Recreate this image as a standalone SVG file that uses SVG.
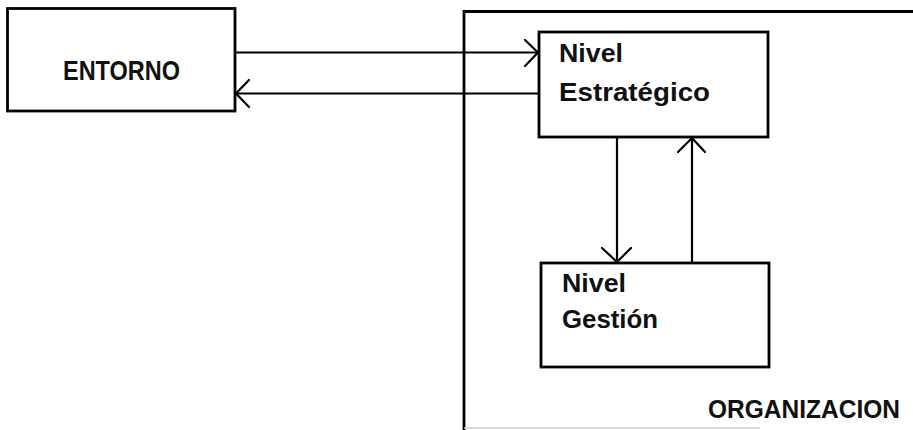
<svg xmlns="http://www.w3.org/2000/svg" width="913" height="430" viewBox="0 0 913 430">
  <style>
    .box { fill: none; stroke: #000; stroke-width: 2.8; }
    .edge { fill: none; stroke: #000; stroke-width: 2.2; }
    .head { fill: none; stroke: #000; stroke-width: 2.2; stroke-linecap: round; stroke-linejoin: miter; }
    .lbl { font-family: "Liberation Sans", "DejaVu Sans", sans-serif; font-weight: bold; fill: #111; }
  </style>
  <rect width="913" height="430" fill="#fff"/>

  <!-- Organisation frame (open to the right) -->
  <g id="organizacion">
    <path class="box" d="M913 11.5 H464 V430"/>
    <path d="M464 428 H760" stroke="#cfcfcf" stroke-width="1.5" fill="none"/>
    <text class="lbl" x="708" y="418" font-size="26" textLength="192" lengthAdjust="spacingAndGlyphs">ORGANIZACION</text>
  </g>

  <g id="entorno">
    <rect class="box" x="7.5" y="8.5" width="227.5" height="102.5"/>
    <text class="lbl" x="63" y="80" font-size="28" textLength="117" lengthAdjust="spacingAndGlyphs">ENTORNO</text>
  </g>

  <g id="nivel-estrategico">
    <rect class="box" x="539" y="32" width="229" height="105"/>
    <text class="lbl" x="559" y="62" font-size="26" textLength="64" lengthAdjust="spacingAndGlyphs">Nivel</text>
    <text class="lbl" x="559" y="101" font-size="26" textLength="151" lengthAdjust="spacingAndGlyphs">Estratégico</text>
  </g>

  <g id="nivel-gestion">
    <rect class="box" x="541" y="263" width="228" height="104"/>
    <text class="lbl" x="562" y="292" font-size="26" textLength="64" lengthAdjust="spacingAndGlyphs">Nivel</text>
    <text class="lbl" x="562" y="328" font-size="26" textLength="96" lengthAdjust="spacingAndGlyphs">Gestión</text>
  </g>

  <g id="connectors">
    <!-- ENTORNO -> Nivel Estratégico -->
    <path class="edge" d="M235 52.5 H538"/>
    <path class="head" d="M525 40 L538 52.5 L525 66"/>
    <!-- Nivel Estratégico -> ENTORNO -->
    <path class="edge" d="M538 93.5 H235"/>
    <path class="head" d="M249 80 L236 93.5 L249 107"/>
    <!-- Nivel Estratégico -> Nivel Gestión -->
    <path class="edge" d="M617 137 V262"/>
    <path class="head" d="M602 248 L617 262 L631 248"/>
    <!-- Nivel Gestión -> Nivel Estratégico -->
    <path class="edge" d="M692 263 V138"/>
    <path class="head" d="M678 152 L692 138 L705 152"/>
  </g>
</svg>
